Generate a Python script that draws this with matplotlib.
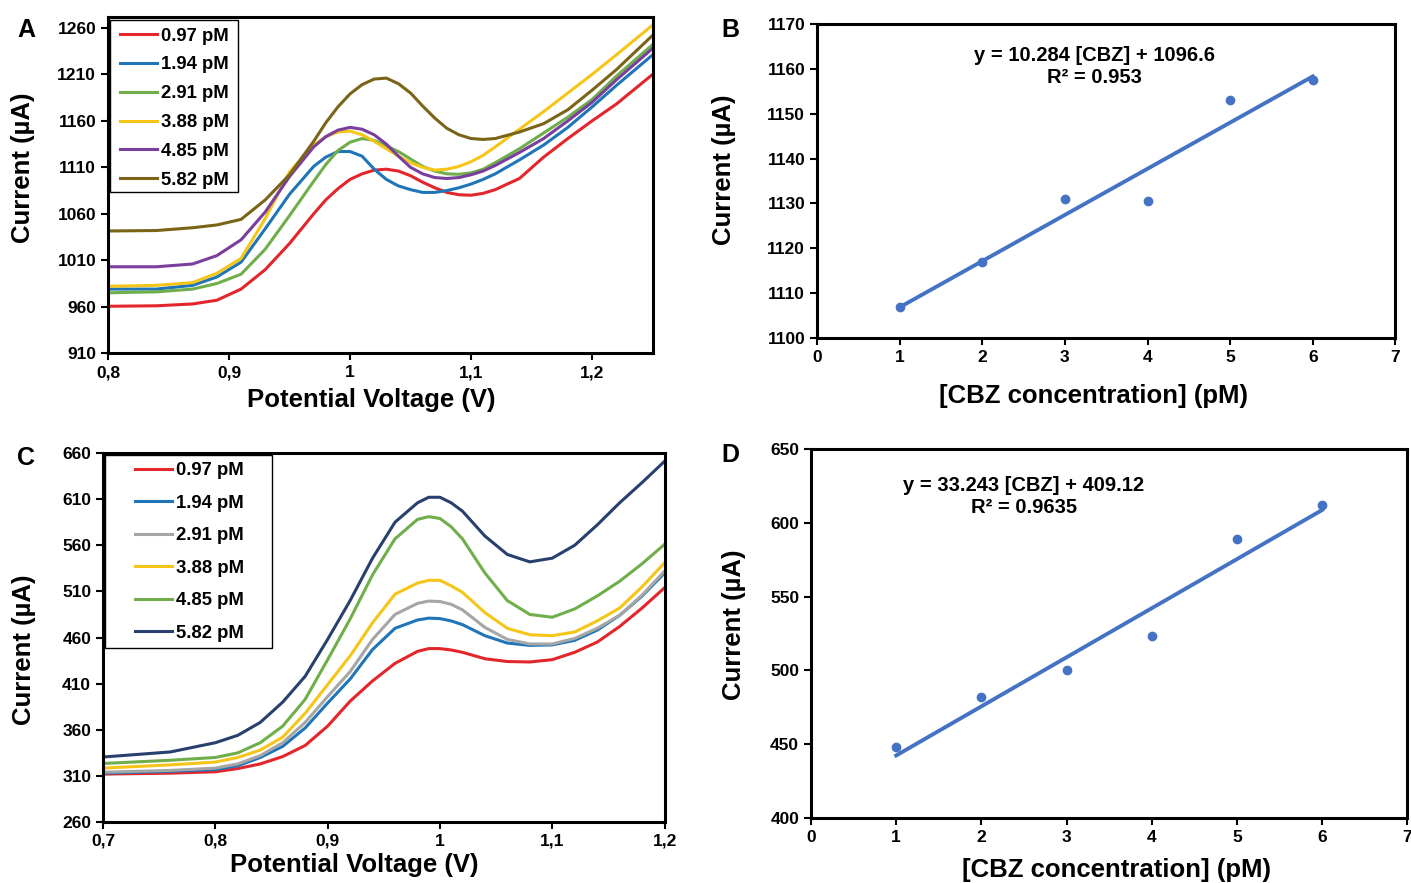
import matplotlib
matplotlib.use("Agg")
import matplotlib.pyplot as plt
from matplotlib.patches import Rectangle
from matplotlib.ticker import FuncFormatter

plt.rcParams["font.family"] = ["Liberation Sans Narrow", "Liberation Sans", "DejaVu Sans"]
plt.rcParams["font.weight"] = "bold"

LABELS = ["0.97 pM", "1.94 pM", "2.91 pM", "3.88 pM", "4.85 pM", "5.82 pM"]

# panel A - DPV curves, 0.8 to 1.25 V
volt_a = [0.80, 0.84, 0.87, 0.89, 0.91, 0.93, 0.95, 0.97, 0.98, 0.99, 1.00, 1.01, 1.02,
          1.03, 1.04, 1.05, 1.06, 1.07, 1.08, 1.09, 1.10, 1.11, 1.12, 1.14, 1.16, 1.18,
          1.20, 1.22, 1.25]
red_a = [960.5, 961, 963, 967, 979, 1000, 1028, 1060, 1075, 1087, 1097, 1103, 1107,
         1108, 1106, 1101, 1094, 1088, 1083, 1080.5, 1080, 1082, 1086, 1098, 1121, 1141,
         1160, 1178, 1210]
blue_a = [979, 979, 983, 992, 1008, 1044, 1081, 1111, 1121, 1127, 1127, 1122, 1108,
          1097, 1090, 1086, 1083, 1083, 1085, 1088, 1092, 1097, 1103, 1118, 1134, 1153,
          1175, 1198, 1231]
green_a = [975, 976, 979, 985, 995, 1022, 1058, 1095, 1113, 1128, 1137, 1141, 1139,
           1133, 1127, 1119, 1111, 1106, 1103, 1102.5, 1104, 1108, 1115, 1130, 1147, 1164,
           1183, 1208, 1242]
yellow_a = [982, 983, 986, 996, 1012, 1055, 1105, 1134, 1143, 1148, 1149, 1145, 1138,
            1130, 1122, 1115, 1110, 1107, 1108, 1111, 1116, 1123, 1132, 1151, 1170, 1190,
            1210, 1231, 1263]
purple_a = [1003, 1003, 1006, 1015, 1032, 1062, 1100, 1132, 1143, 1150, 1153, 1151, 1145,
            1135, 1122, 1110, 1103, 1099, 1098, 1099, 1102, 1106, 1112, 1126, 1141, 1160,
            1180, 1204, 1238]
olive_a = [1041.5, 1042, 1045, 1048, 1054, 1075, 1102, 1138, 1158, 1175, 1189, 1199, 1205,
           1206, 1200, 1190, 1176, 1163, 1152, 1145, 1141, 1140, 1141, 1148, 1157, 1172,
           1193, 1215, 1252]
curr_a = [red_a, blue_a, green_a, yellow_a, purple_a, olive_a]
colors_a = ["#E3262B", "#1F75B8", "#6FAE4A", "#F5C518", "#7A3E9D", "#7A6418"]

# panel C - DPV curves, 0.7 to 1.2 V
volt_c = [0.70, 0.76, 0.80, 0.82, 0.84, 0.86, 0.88, 0.90, 0.92, 0.94, 0.96, 0.98, 0.99,
          1.00, 1.01, 1.02, 1.04, 1.06, 1.08, 1.10, 1.12, 1.14, 1.16, 1.18, 1.20]
red_c = [312, 313, 314.5, 318, 323, 331, 343, 364, 391, 413, 432, 445, 448,
         448, 446.5, 444, 437, 434, 433.5, 436, 444, 455, 472, 492, 514]
blue_c = [313, 315, 317, 321, 330, 342, 362, 389, 415, 447, 470, 479, 481,
          480.5, 478, 474, 462, 454, 451.5, 452, 457, 468, 484, 505, 530]
gray_c = [314, 316, 318.5, 323, 332, 346, 368, 396, 423, 458, 485, 497, 499.5,
          499, 496, 490, 471, 458, 453, 453, 459, 470, 484, 506, 532]
yellow_c = [318.5, 322, 325, 330, 338, 352, 378, 409, 440, 476, 507, 519, 522,
            522, 516, 509, 487, 470, 463, 462, 466, 478, 492, 515, 541]
green_c = [323.5, 327, 330, 335, 346, 364, 393, 436, 480, 528, 567, 588, 591,
           589, 580, 567, 530, 500, 485, 482, 491, 505, 521, 540, 561]
navy_c = [330.5, 336, 346, 354, 368, 390, 418, 458, 500, 546, 585, 606, 612,
          612, 606, 597, 570, 550, 542, 546, 560, 582, 606, 628, 651]
curr_c = [red_c, blue_c, gray_c, yellow_c, green_c, navy_c]
colors_c = ["#E3262B", "#1F75B8", "#A6A6A6", "#F5C518", "#6FAE4A", "#27406E"]

# calibration plots
conc = [1, 2, 3, 4, 5, 6]
peak_b = [1107, 1117, 1131, 1130.5, 1153, 1157.5]
slope_b, icpt_b = 10.284, 1096.6
peak_d = [448, 482, 500, 523, 589, 612]
slope_d, icpt_d = 33.243, 409.12

LAB_FONT = dict(fontsize=18.5, fontweight="bold", family=["Liberation Sans", "DejaVu Sans"])

fig = plt.figure(figsize=(14.11, 8.83), dpi=100)

ax_a = fig.add_axes([0.0765, 0.600, 0.386, 0.381])
ax_b = fig.add_axes([0.579, 0.617, 0.410, 0.356])
ax_c = fig.add_axes([0.073, 0.069, 0.398, 0.418])
ax_d = fig.add_axes([0.5748, 0.0736, 0.4225, 0.418])

comma = FuncFormatter(lambda v, p: ("%g" % round(v, 2)).replace(".", ","))

for ax in (ax_a, ax_b, ax_c, ax_d):
    for s in ax.spines.values():
        s.set_linewidth(2.2)
    ax.tick_params(direction="out", length=5, width=1.5, labelsize=12.5)


def boxed_legend(ax, box, anchor, spacing):
    # white framed box drawn by hand, entries placed inside it
    ax.add_patch(Rectangle(box[:2], box[2], box[3], transform=ax.transAxes,
                           facecolor="white", edgecolor="black", lw=1.0, zorder=4))
    leg = ax.legend(loc="upper left", bbox_to_anchor=anchor, fontsize=13.3,
                    handlelength=2.0, handletextpad=0.2, labelspacing=spacing,
                    borderpad=0, borderaxespad=0, frameon=False)
    leg.set_zorder(5)


# A
for y, c, l in zip(curr_a, colors_a, LABELS):
    ax_a.plot(volt_a, y, color=c, lw=2.2, label=l, solid_joinstyle="round")
ax_a.set_xlim(0.8, 1.25)
ax_a.set_ylim(910, 1272)
ax_a.set_xticks([0.8, 0.9, 1.0, 1.1, 1.2])
ax_a.set_yticks(range(910, 1261, 50))
ax_a.xaxis.set_major_formatter(comma)
ax_a.set_xlabel("Potential Voltage (V)", **LAB_FONT)
ax_a.set_ylabel("Current (µA)", **LAB_FONT)
ax_a.xaxis.set_label_coords(0.484, -0.104)
ax_a.yaxis.set_label_coords(-0.134, 0.55)
boxed_legend(ax_a, (0.0037, 0.479, 0.235, 0.512), (0.022, 0.968), 0.64)

# B
ax_b.scatter(conc, peak_b, s=36, color="#4472C4", zorder=3)
ax_b.plot([conc[0], conc[-1]], [slope_b * conc[0] + icpt_b, slope_b * conc[-1] + icpt_b],
          color="#4472C4", lw=2.8)
ax_b.set_xlim(0, 7)
ax_b.set_ylim(1100, 1170)
ax_b.set_xticks(range(0, 8))
ax_b.set_yticks(range(1100, 1171, 10))
ax_b.set_xlabel("[CBZ concentration] (pM)", **LAB_FONT)
ax_b.set_ylabel("Current (µA)", **LAB_FONT)
ax_b.xaxis.set_label_coords(0.478, -0.146)
ax_b.yaxis.set_label_coords(-0.140, 0.535)
ax_b.text(0.48, 0.865, "y = 10.284 [CBZ] + 1096.6\nR² = 0.953", transform=ax_b.transAxes,
          ha="center", va="center", fontsize=14.5, fontweight="bold", linespacing=1.2)

# C
for y, c, l in zip(curr_c, colors_c, LABELS):
    ax_c.plot(volt_c, y, color=c, lw=2.2, label=l, solid_joinstyle="round")
ax_c.set_xlim(0.7, 1.2)
ax_c.set_ylim(260, 660)
ax_c.set_xticks([0.7, 0.8, 0.9, 1.0, 1.1, 1.2])
ax_c.set_yticks(range(260, 661, 50))
ax_c.xaxis.set_major_formatter(comma)
ax_c.set_xlabel("Potential Voltage (V)", **LAB_FONT)
ax_c.set_ylabel("Current (µA)", **LAB_FONT)
ax_c.xaxis.set_label_coords(0.448, -0.085)
ax_c.yaxis.set_label_coords(-0.119, 0.466)
boxed_legend(ax_c, (0.0036, 0.4715, 0.297, 0.523), (0.057, 0.975), 0.84)

# D
ax_d.scatter(conc, peak_d, s=36, color="#4472C4", zorder=3)
ax_d.plot([conc[0], conc[-1]], [slope_d * conc[0] + icpt_d, slope_d * conc[-1] + icpt_d],
          color="#4472C4", lw=2.8)
ax_d.set_xlim(0, 7)
ax_d.set_ylim(400, 650)
ax_d.set_xticks(range(0, 8))
ax_d.set_yticks(range(400, 651, 50))
ax_d.set_xlabel("[CBZ concentration] (pM)", **LAB_FONT)
ax_d.set_ylabel("Current (µA)", **LAB_FONT)
ax_d.xaxis.set_label_coords(0.513, -0.107)
ax_d.yaxis.set_label_coords(-0.109, 0.523)
ax_d.text(0.357, 0.872, "y = 33.243 [CBZ] + 409.12\nR² = 0.9635", transform=ax_d.transAxes,
          ha="center", va="center", fontsize=14.5, fontweight="bold", linespacing=1.2)

# panel letters
for letter, (px, py) in zip("ABCD", [(26, 30), (730, 30), (26, 458), (730, 455)]):
    fig.text(px / 1411, 1 - py / 883, letter, fontsize=18, fontweight="bold",
             family=["Liberation Sans", "DejaVu Sans"], ha="center", va="center")

fig.savefig("out.png", dpi=100)
